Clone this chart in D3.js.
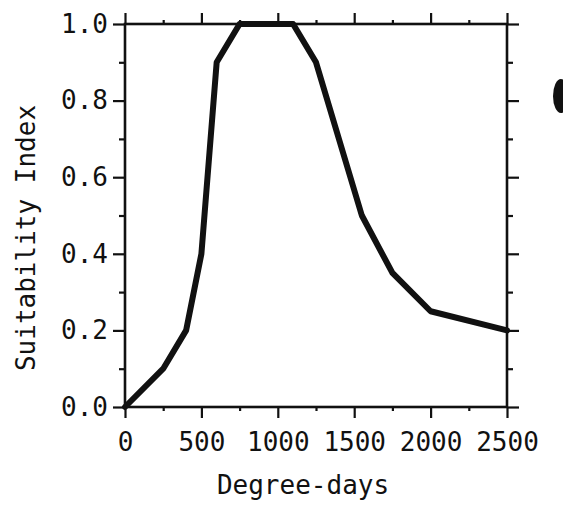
<!DOCTYPE html>
<html>
<head>
<meta charset="utf-8">
<script src="https://cdn.jsdelivr.net/npm/d3@7"></script>
<style>
  body { margin: 0; background: #fff; }
  text { font-family: 'DejaVu Sans Mono', 'Liberation Mono', monospace; fill: #111; }
</style>
</head>
<body>
<div id="chart"></div>
<script>
// curve
const degreeDays = [0, 250, 400, 500, 600, 750, 1100, 1250, 1550, 1750, 2000, 2500]
const suitability = [0, 0.1, 0.2, 0.4, 0.9, 1.0, 1.0, 0.9, 0.5, 0.35, 0.25, 0.2]

const xTicks = [0, 500, 1000, 1500, 2000, 2500]
const xMinorTicks = [250, 750, 1250, 1750, 2250]
const yTicks = [0, 0.2, 0.4, 0.6, 0.8, 1.0]
const yMinorTicks = [0.1, 0.3, 0.5, 0.7, 0.9]

const margin = { top: 24, right: 56, bottom: 99, left: 125 }
const width = 563 - margin.left - margin.right
const height = 506 - margin.top - margin.bottom

const root = d3
  .select('#chart')
  .append('svg')
  .attr('width', 563)
  .attr('height', 506)

const svg = root
  .append('g')
  .attr('transform', `translate(${margin.left},${margin.top})`)

const xPositionScale = d3.scaleLinear().domain([0, 2500]).range([0, width])
const yPositionScale = d3.scaleLinear().domain([0, 1]).range([height, 0])

const ink = '#111'

function styleAxis(g) {
  g.select('.domain').remove()
  g.selectAll('line').attr('stroke', ink).attr('stroke-width', 2.2)
  g.selectAll('text').style('font-size', '26px')
}

// major ticks
svg.append('g')
  .attr('transform', `translate(0,${height})`)
  .call(d3.axisBottom(xPositionScale).tickValues(xTicks).tickSize(11).tickPadding(15).tickFormat(d3.format('d')))
  .call(styleAxis)

svg.append('g')
  .call(d3.axisLeft(yPositionScale).tickValues(yTicks).tickSize(12).tickPadding(5).tickFormat(d3.format('.1f')))
  .call(styleAxis)

svg.append('g')
  .call(d3.axisTop(xPositionScale).tickValues(xTicks).tickSize(11).tickFormat(''))
  .call(styleAxis)

svg.append('g')
  .attr('transform', `translate(${width},0)`)
  .call(d3.axisRight(yPositionScale).tickValues(yTicks).tickSize(12).tickFormat(''))
  .call(styleAxis)

// minor ticks
svg.append('g')
  .attr('transform', `translate(0,${height})`)
  .call(d3.axisBottom(xPositionScale).tickValues(xMinorTicks).tickSize(4).tickFormat(''))
  .call(styleAxis)

svg.append('g')
  .call(d3.axisTop(xPositionScale).tickValues(xMinorTicks).tickSize(4).tickFormat(''))
  .call(styleAxis)

svg.append('g')
  .call(d3.axisLeft(yPositionScale).tickValues(yMinorTicks).tickSize(6).tickFormat(''))
  .call(styleAxis)

svg.append('g')
  .attr('transform', `translate(${width},0)`)
  .call(d3.axisRight(yPositionScale).tickValues(yMinorTicks).tickSize(6).tickFormat(''))
  .call(styleAxis)

// frame
svg.append('rect')
  .attr('width', width)
  .attr('height', height)
  .attr('fill', 'none')
  .attr('stroke', ink)
  .attr('stroke-width', 2.6)

// the curve
const points = degreeDays.map((d, i) => [d, suitability[i]])

svg.append('path')
  .datum(points)
  .attr('fill', 'none')
  .attr('stroke', ink)
  .attr('stroke-width', 6)
  .attr('stroke-linejoin', 'round')
  .attr('stroke-linecap', 'round')
  .attr('d', d3.line()
    .x(d => xPositionScale(d[0]))
    .y(d => yPositionScale(d[1])))

// axis titles
root.append('text')
  .attr('transform', 'rotate(-90)')
  .attr('x', -238)
  .attr('y', 35)
  .attr('text-anchor', 'middle')
  .style('font-size', '26px')
  .text('Suitability Index')

root.append('text')
  .attr('x', 303)
  .attr('y', 494)
  .attr('text-anchor', 'middle')
  .style('font-size', '26px')
  .text('Degree-days')

// stray ink blot at the right edge of the scan
root.append('ellipse')
  .attr('cx', 561)
  .attr('cy', 96)
  .attr('rx', 8)
  .attr('ry', 17)
  .attr('fill', ink)
</script>
</body>
</html>
